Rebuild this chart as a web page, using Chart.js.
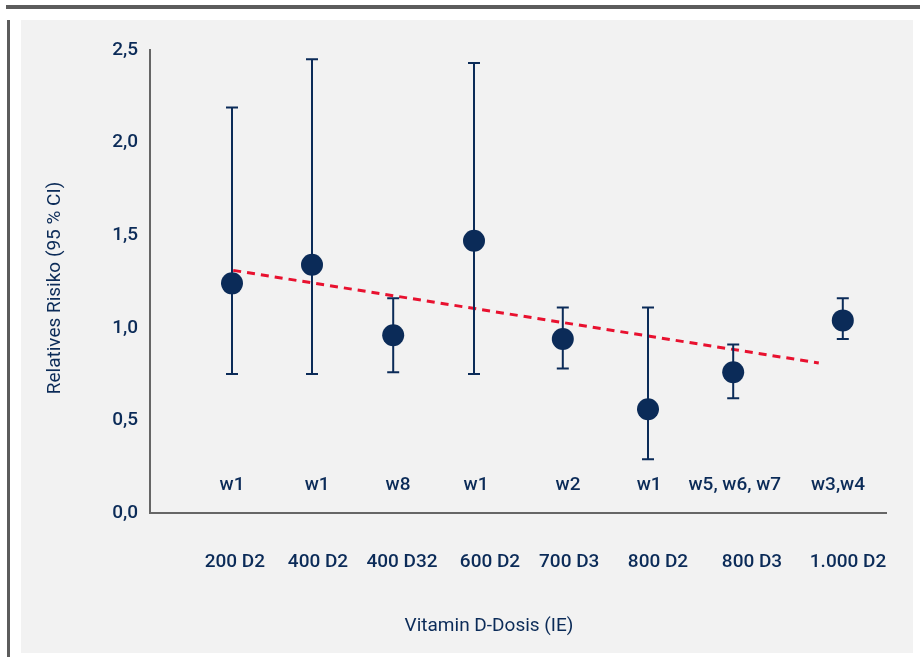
<!DOCTYPE html>
<html>
<head>
<meta charset="utf-8">
<script src="https://cdn.jsdelivr.net/npm/chart.js@4.4.1/dist/chart.umd.min.js"></script>
<style>
  html, body { margin: 0; padding: 0; background: #ffffff; width: 920px; height: 657px; overflow: hidden; position: relative; }
  #topbar { position: absolute; left: 6px; top: 5px; width: 914px; height: 4px; background: #5c5c5c; }
  #leftbar { position: absolute; left: 7px; top: 20px; width: 3px; height: 637px; background: #5c5c5c; }
  #panel { position: absolute; left: 21px; top: 20px; width: 892px; height: 633px; background: #f2f2f2; }
  canvas { display: block; }
</style>
</head>
<body>
<div id="topbar"></div>
<div id="leftbar"></div>
<div id="panel"><canvas id="c" width="892" height="633"></canvas></div>
<script>
// ---- data ----
const categories = ['200 D2', '400 D2', '400 D32', '600 D2', '700 D3', '800 D2', '800 D3', '1.000 D2'];
const studyLabels = ['w1', 'w1', 'w8', 'w1', 'w2', 'w1', 'w5, w6, w7', 'w3,w4'];
const relativeRisk = [1.24, 1.34, 0.96, 1.47, 0.94, 0.56, 0.76, 1.04];
const ciLow = [0.75, 0.75, 0.76, 0.75, 0.78, 0.29, 0.62, 0.94];
const ciHigh = [2.19, 2.45, 1.16, 2.43, 1.11, 1.11, 0.91, 1.16];
// horizontal positions (in x-axis units) as laid out in the figure
const pointPos = [1.025, 2.025, 3.04, 4.05, 5.16, 6.225, 7.29, 8.66];
const studyLabelPos = [1.025, 2.09, 3.1, 4.075, 5.225, 6.24, 7.31, 8.6];
const categoryPos = [1.06, 2.1, 3.15, 4.25, 5.24, 6.35, 7.525, 8.725];
const studyLabelLevel = 0.15;
const trendX = [1.04, 8.36];
const trendY = [1.31, 0.81];
const yTickValues = [0, 0.5, 1.0, 1.5, 2.0, 2.5];

const NAVY = '#0b2b58';
const RED = '#e8112f';
const FONT = 'Roboto, "DejaVu Sans", sans-serif';
const WEIGHT = '500';

const pointData = relativeRisk.map((v, i) => ({ x: pointPos[i], y: v }));
const trendData = trendX.map((x, i) => ({ x: x, y: trendY[i] }));

const errorBarPlugin = {
  id: 'errorBars',
  afterDatasetDraw(chart, args) {
    if (args.index !== 0) return; // draw after the trend line, before points
    const xs = chart.scales.x, ys = chart.scales.y, ctx = chart.ctx;
    ctx.save();
    ctx.strokeStyle = NAVY;
    ctx.lineWidth = 2;
    for (let i = 0; i < pointPos.length; i++) {
      const px = xs.getPixelForValue(pointPos[i]);
      const pLo = ys.getPixelForValue(ciLow[i]);
      const pHi = ys.getPixelForValue(ciHigh[i]);
      ctx.beginPath();
      ctx.moveTo(px, pLo); ctx.lineTo(px, pHi);
      ctx.moveTo(px - 6, pLo); ctx.lineTo(px + 6, pLo);
      ctx.moveTo(px - 6, pHi); ctx.lineTo(px + 6, pHi);
      ctx.stroke();
    }
    ctx.restore();
  }
};

const textPlugin = {
  id: 'texts',
  afterDraw(chart) {
    const xs = chart.scales.x, ys = chart.scales.y, ctx = chart.ctx;
    ctx.save();
    ctx.fillStyle = NAVY;
    ctx.font = WEIGHT + ' 19px ' + FONT;
    ctx.textAlign = 'center';
    ctx.textBaseline = 'middle';
    for (let i = 0; i < studyLabels.length; i++) {
      ctx.fillText(studyLabels[i], xs.getPixelForValue(studyLabelPos[i]), ys.getPixelForValue(studyLabelLevel));
    }
    // axis titles
    ctx.font = '19px ' + FONT;
    ctx.fillText('Vitamin D-Dosis (IE)', 468, 606);
    ctx.translate(34, 268);
    ctx.rotate(-Math.PI / 2);
    ctx.fillText('Relatives Risiko (95 % CI)', 0, 0);
    ctx.restore();
  }
};

new Chart(document.getElementById('c'), {
  type: 'scatter',
  data: {
    datasets: [
      {
        type: 'line',
        data: trendData,
        borderColor: RED,
        borderWidth: 3,
        borderDash: [8, 6],
        pointRadius: 0,
        fill: false,
        order: 2
      },
      {
        type: 'scatter',
        data: pointData,
        backgroundColor: NAVY,
        borderColor: NAVY,
        borderWidth: 0,
        pointRadius: 11,
        order: 1
      }
    ]
  },
  options: {
    responsive: false,
    devicePixelRatio: 1,
    animation: false,
    layout: { padding: { left: 0, top: 30, right: 27, bottom: 0 } },
    plugins: { legend: { display: false }, tooltip: { enabled: false } },
    scales: {
      x: {
        type: 'linear',
        min: 0,
        max: 9.2,
        grid: { display: false, drawTicks: false },
        border: { display: true, color: '#666666', width: 2 },
        afterBuildTicks: (s) => { s.ticks = categoryPos.map(v => ({ value: v })); },
        afterFit: (s) => { s.height = 140; s.paddingLeft = 0; s.paddingRight = 0; },
        ticks: {
          autoSkip: false,
          maxRotation: 0,
          padding: 38,
          color: NAVY,
          font: { family: FONT, size: 19, weight: WEIGHT },
          callback: (v, i) => categories[i]
        }
      },
      y: {
        type: 'linear',
        min: 0,
        max: 2.5,
        grid: { display: false, drawTicks: false },
        border: { display: true, color: '#666666', width: 2 },
        afterBuildTicks: (s) => { s.ticks = yTickValues.map(v => ({ value: v })); },
        afterFit: (s) => { s.width = 129; },
        ticks: {
          padding: 12,
          color: NAVY,
          font: { family: FONT, size: 19, weight: WEIGHT },
          callback: (v) => Number(v).toFixed(1).replace('.', ',')
        }
      }
    }
  },
  plugins: [errorBarPlugin, textPlugin]
});
</script>
</body>
</html>
